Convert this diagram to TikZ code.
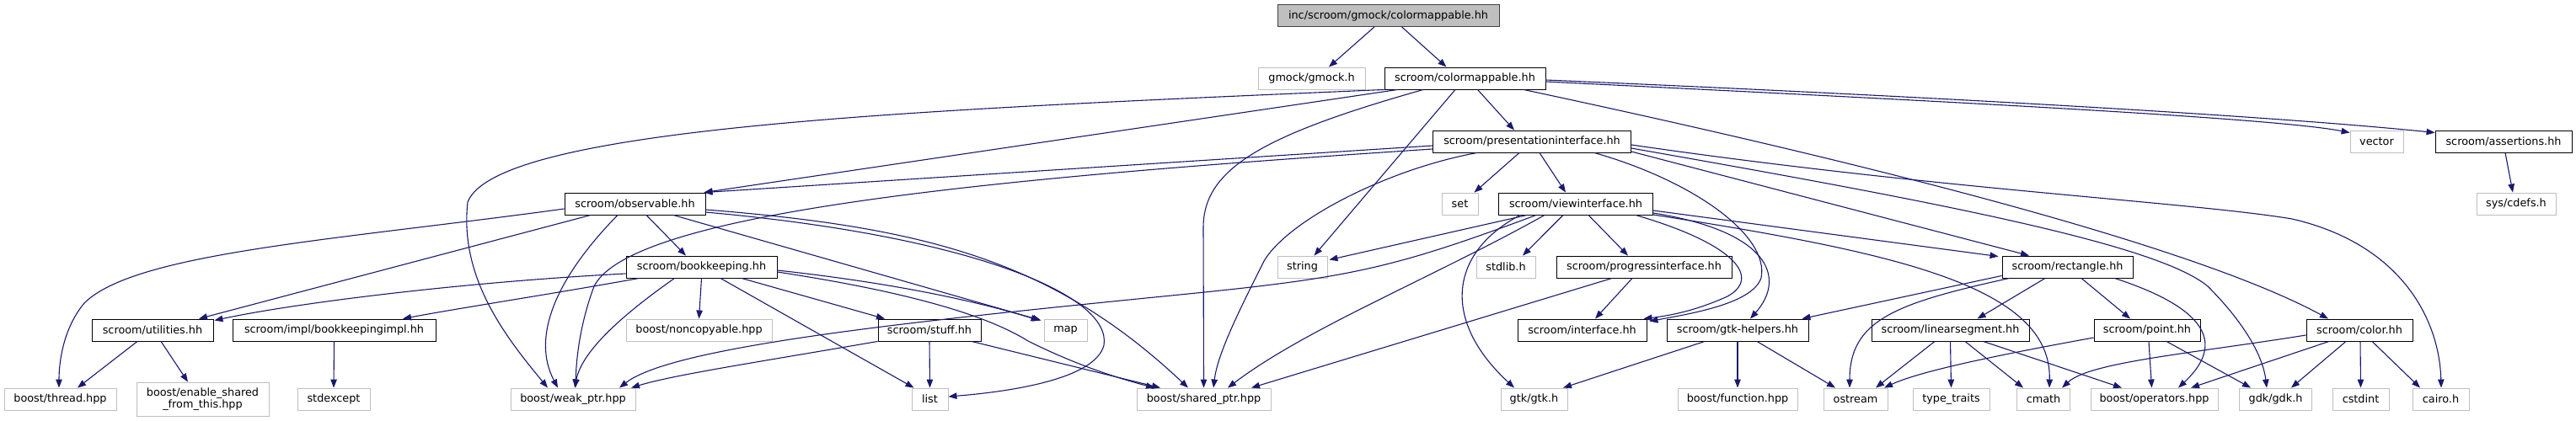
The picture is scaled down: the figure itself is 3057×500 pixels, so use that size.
\documentclass[tikz,border=0pt]{standalone}
\usepackage{fontspec}
\setmainfont{DejaVu Sans}
\usetikzlibrary{arrows.meta}
\definecolor{edgec}{HTML}{191970}
\definecolor{gbord}{HTML}{BFBFBF}
\definecolor{rootfill}{HTML}{BFBFBF}
\tikzset{
  box/.style={draw=black, line width=0.9pt, fill=white, minimum height=26pt, inner sep=0pt, align=center,
    font=\fontsize{12.8pt}{14.5pt}\selectfont},
  ext/.style={box, draw=gbord},
  e/.style={draw=edgec, line width=1.1pt, -{Triangle[length=10pt,width=7.5pt]}},
}
\begin{document}
\begin{tikzpicture}[x=1pt,y=-1pt]
\fill[white] (0,0) rectangle (3057,500);
\useasboundingbox (0,0) rectangle (3057,500);
% row 0
\node[box,fill=rootfill,draw=black!75,minimum width=263pt] (root) at (1647.5,18.5) {inc/scroom/gmock/colormappable.hh};
% row 1
\node[ext,minimum width=127pt] (gmock) at (1556.5,93) {gmock/gmock.h};
\node[box,minimum width=191pt] (cmap) at (1738.5,93) {scroom/colormappable.hh};
% row 2
\node[box,minimum width=235pt] (pres) at (1818,168) {scroom/presentationinterface.hh};
\node[ext,minimum width=63pt] (vector) at (2820.5,168) {vector};
\node[box,minimum width=162pt] (assert) at (2971,168) {scroom/assertions.hh};
% row 3
\node[box,minimum width=167pt] (obs) at (753.5,242) {scroom/observable.hh};
\node[ext,minimum width=43pt] (set) at (1732.5,242) {set};
\node[box,minimum width=183pt] (view) at (1870,242) {scroom/viewinterface.hh};
\node[ext,minimum width=94pt] (cdefs) at (2986,242) {sys/cdefs.h};
% row 4
\node[box,minimum width=179pt] (bk) at (832.5,317) {scroom/bookkeeping.hh};
\node[ext,minimum width=59pt] (string) at (1545.5,317) {string};
\node[ext,minimum width=70pt] (stdlib) at (1787,317) {stdlib.h};
\node[box,minimum width=208pt] (prog) at (1951,317) {scroom/progressinterface.hh};
\node[box,minimum width=155pt] (rect) at (2453.5,317) {scroom/rectangle.hh};
% row 5
\node[box,minimum width=144pt] (util) at (181,392) {scroom/utilities.hh};
\node[box,minimum width=241pt] (bkimpl) at (396.5,392) {scroom/impl/bookkeepingimpl.hh};
\node[ext,minimum width=173pt] (noncopy) at (829.5,392) {boost/noncopyable.hpp};
\node[box,minimum width=122pt] (stuff) at (1103,392) {scroom/stuff.hh};
\node[ext,minimum width=51pt] (map) at (1264.5,392) {map};
\node[box,minimum width=153pt] (iface) at (1877.5,392) {scroom/interface.hh};
\node[box,minimum width=168pt] (gtkh) at (2062,392) {scroom/gtk-helpers.hh};
\node[box,minimum width=187pt] (linseg) at (2314.5,392) {scroom/linearsegment.hh};
\node[box,minimum width=126pt] (point) at (2548,392) {scroom/point.hh};
\node[box,minimum width=126pt] (color) at (2800,392) {scroom/color.hh};
% row 6
\node[ext,minimum width=133pt] (thread) at (71.5,474) {boost/thread.hpp};
\node[ext,minimum width=157pt,minimum height=40pt] (enable) at (240.5,474) {boost/enable\_shared\\\_from\_this.hpp};
\node[ext,minimum width=86pt] (stdexcept) at (396,474) {stdexcept};
\node[ext,minimum width=148pt] (weak) at (680,474) {boost/weak\_ptr.hpp};
\node[ext,minimum width=43pt] (list) at (1103.5,474) {list};
\node[ext,minimum width=159pt] (shared) at (1428.5,474) {boost/shared\_ptr.hpp};
\node[ext,minimum width=79pt] (gtk) at (1820.5,474) {gtk/gtk.h};
\node[ext,minimum width=142pt] (function) at (2062,474) {boost/function.hpp};
\node[ext,minimum width=76pt] (ostream) at (2202,474) {ostream};
\node[ext,minimum width=91pt] (typetraits) at (2315.5,474) {type\_traits};
\node[ext,minimum width=63pt] (cmath) at (2425,474) {cmath};
\node[ext,minimum width=151pt] (operators) at (2556.5,474) {boost/operators.hpp};
\node[ext,minimum width=86pt] (gdk) at (2700.5,474) {gdk/gdk.h};
\node[ext,minimum width=67pt] (cstdint) at (2801.5,474) {cstdint};
\node[ext,minimum width=67pt] (cairo) at (2896.5,474) {cairo.h};

% root
\draw[e] ([xshift=-16.5]root.south) -- ([xshift=20.5]gmock.north);
\draw[e] ([xshift=16]root.south) -- ([xshift=-22]cmap.north);
% colormappable
\draw[e] ([xshift=-80]cmap.south) -- ([xshift=-2]obs.north east);
\draw[e] ([xshift=-96]cmap.south) .. controls (1100,130) and (590,150) .. (555,240) .. controls (545,330) and (600,400) .. ([xshift=-30]weak.north);
\draw[e] ([xshift=-11.5]cmap.south) -- ([xshift=14]string.north);
\draw[e] ([xshift=-49.5]cmap.south) .. controls (1500,160) and (1428,200) .. (1428,270) -- (shared.north);
\draw[e] ([xshift=15]cmap.south) -- ([xshift=-21]pres.north);
\draw[e] ([yshift=-4]cmap.east) .. controls (2300,120) and (2700,140) .. ([yshift=-3]vector.north west);
\draw[e] ([yshift=-2]cmap.east) .. controls (2300,115) and (2700,138) .. ([yshift=-3]assert.north west);
\draw[e] ([xshift=69.5]cmap.south) .. controls (2200,190) and (2600,290) .. ([xshift=-37]color.north);
% presentationinterface
\draw[e] ([yshift=-5]pres.west) -- ([xshift=-2]obs.north east);
\draw[e] ([yshift=-9]pres.west) .. controls (1200,210) and (750,250) .. (705,340) .. controls (690,380) and (684,420) .. ([xshift=3]weak.north);
\draw[e] ([xshift=-15]pres.south) -- ([xshift=17]set.north);
\draw[e] ([xshift=9]pres.south) -- ([xshift=-12]view.north);
\draw[e] ([xshift=-65]pres.south) .. controls (1650,200) and (1530,260) .. (1500,310) .. controls (1470,370) and (1445,420) .. ([xshift=11.5]shared.north);
\draw[e] ([yshift=-12]pres.east) -- ([xshift=-45.5]rect.north);
\draw[e] ([yshift=-8]pres.east) .. controls (2300,240) and (2560,290) .. (2620,340) .. controls (2660,380) and (2685,420) .. ([xshift=-10.5]gdk.north);
\draw[e] ([yshift=-4]pres.east) .. controls (2300,225) and (2600,240) .. (2720,260) .. controls (2850,290) and (2895,380) .. ([xshift=0.5]cairo.north);
\draw[e] ([xshift=74]pres.south) .. controls (2010,215) and (2100,280) .. (2090,330) .. controls (2080,360) and (2010,372) .. ([xshift=3,yshift=-3]iface.north east);
% viewinterface
\draw[e] ([xshift=-58]view.south) -- ([xshift=2,yshift=-5]string.north east);
\draw[e] ([xshift=-15]view.south) -- ([xshift=20]stdlib.north);
\draw[e] ([xshift=15]view.south) -- ([xshift=-19]prog.north);
\draw[e] ([yshift=-8]view.east) -- ([xshift=-4,yshift=-1]rect.north west);
\draw[e] ([xshift=71]view.south) .. controls (2060,290) and (2090,330) .. (2050,352) .. controls (2010,370) and (1980,375) .. ([xshift=-4]iface.north east);
\draw[e] ([yshift=-11]view.east) .. controls (2100,275) and (2120,330) .. ([xshift=15]gtkh.north);
\draw[e] ([xshift=-66]view.south) .. controls (1720,300) and (1710,380) .. ([xshift=-23.5]gtk.north);
\draw[e] ([xshift=-37]view.south) .. controls (1700,330) and (1550,390) .. ([xshift=28.5]shared.north);
\draw[e] ([xshift=-47]view.south) .. controls (1650,320) and (1600,330) .. (1400,350) .. controls (1100,380) and (800,410) .. ([xshift=55]weak.north);
\draw[e] ([yshift=-13]view.east) .. controls (2250,300) and (2435,340) .. ([xshift=7]cmath.north);
% observable
\draw[e] ([xshift=13.5]obs.south) -- ([xshift=-18.5]bk.north);
\draw[e] ([xshift=-52.5]obs.south) -- ([xshift=55]util.north);
\draw[e] ([yshift=-6]obs.west) .. controls (400,285) and (160,300) .. (100,360) .. controls (75,390) and (70,430) .. ([xshift=-1.5]thread.north);
\draw[e] ([xshift=-20.5]obs.south) .. controls (660,330) and (630,400) .. ([xshift=-18]weak.north);
\draw[e] ([xshift=45.5]obs.south) -- ([xshift=-3,yshift=-2]map.north west);
\draw[e] ([yshift=-7]obs.east) .. controls (1100,270) and (1250,310) .. ([xshift=-18.5]shared.north);
\draw[e] ([yshift=-10]obs.east) .. controls (1150,280) and (1320,350) .. (1310,410) .. controls (1300,450) and (1200,465) .. ([yshift=3]list.east);
% bookkeeping
\draw[e] ([yshift=-8]bk.west) .. controls (550,335) and (350,360) .. ([xshift=1,yshift=-2]util.north east);
\draw[e] ([xshift=-74]bk.south) .. controls (650,350) and (550,365) .. ([xshift=81.5]bkimpl.north);
\draw[e] (bk.south) -- (noncopy.north);
\draw[e] ([xshift=-32]bk.south) .. controls (730,380) and (690,420) .. ([xshift=2]weak.north);
\draw[e] ([xshift=22.5]bk.south) -- ([xshift=3]list.north west);
\draw[e] ([xshift=47.5]bk.south) -- ([xshift=-53]stuff.north);
\draw[e] ([yshift=-4]bk.east) .. controls (1050,335) and (1150,355) .. ([xshift=-5,yshift=-2]map.north west);
\draw[e] ([yshift=-6]bk.east) .. controls (1100,350) and (1180,380) .. (1220,405) .. controls (1280,435) and (1330,450) .. ([xshift=-58.5]shared.north);
% utilities, bookkeepingimpl
\draw[e] ([xshift=-18]util.south) -- ([xshift=20.5]thread.north);
\draw[e] ([xshift=10]util.south) -- ([xshift=-17.5]enable.north);
\draw[e] (bkimpl.south) -- (stdexcept.north);
% stuff
\draw[e] (stuff.south) -- (list.north);
\draw[e] ([xshift=50]stuff.south) -- ([xshift=-51.5]shared.north);
\draw[e] (stuff.south west) .. controls (900,430) and (800,445) .. ([xshift=69]weak.north);
% progressinterface
\draw[e] ([xshift=-14]prog.south) -- ([xshift=15.5]iface.north);
\draw[e] ([xshift=-38]prog.south) -- ([xshift=56.5]shared.north);
% gtk-helpers
\draw[e] ([xshift=-39]gtkh.south) -- ([xshift=34.5]gtk.north);
\draw[e] (gtkh.south) -- (function.north);
\draw[e] ([xshift=23]gtkh.south) -- ([xshift=-24]ostream.north);
% rectangle
\draw[e] ([yshift=3]rect.south west) -- ([xshift=-8]gtkh.north east);
\draw[e] ([xshift=-69]rect.south) .. controls (2250,360) and (2195,380) .. ([xshift=-7]ostream.north);
\draw[e] ([xshift=-26.5]rect.south) -- ([xshift=32]linseg.north);
\draw[e] ([xshift=16.5]rect.south) -- ([xshift=-20]point.north);
\draw[e] ([xshift=56]rect.south) .. controls (2600,360) and (2650,400) .. ([xshift=28.5]operators.north);
% linearsegment
\draw[e] ([xshift=-18.5]linseg.south) -- ([xshift=24]ostream.north);
\draw[e] (linseg.south) -- (typetraits.north);
\draw[e] ([xshift=17.5]linseg.south) -- ([xshift=-24]cmath.north);
\draw[e] ([xshift=39]linseg.south) -- ([xshift=-38.5]operators.north);
% point
\draw[e] ([yshift=-9]point.west) .. controls (2380,420) and (2280,440) .. ([xshift=34]ostream.north);
\draw[e] ([xshift=2]point.south) -- ([xshift=-3]operators.north);
\draw[e] ([xshift=23]point.south) -- ([xshift=-29.5]gdk.north);
% color
\draw[e] ([yshift=-6]color.west) .. controls (2600,420) and (2480,430) .. ([xshift=22]cmath.north);
\draw[e] ([xshift=-36]color.south) -- ([xshift=43.5]operators.north);
\draw[e] ([xshift=-16]color.south) -- ([xshift=18.5]gdk.north);
\draw[e] ([xshift=1]color.south) -- (cstdint.north);
\draw[e] ([xshift=15]color.south) -- ([xshift=-24.5]cairo.north);
% assertions
\draw[e] ([xshift=2]assert.south) -- ([xshift=-4]cdefs.north);
\end{tikzpicture}
\end{document}
